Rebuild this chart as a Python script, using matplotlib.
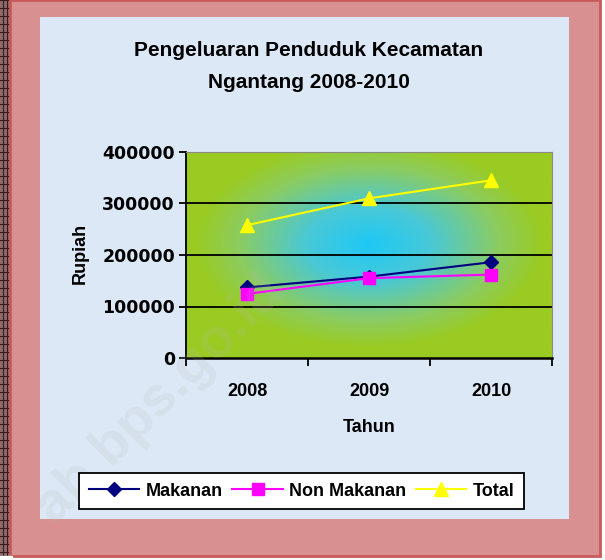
import numpy as np
import matplotlib
matplotlib.use("Agg")
import matplotlib.pyplot as plt
from matplotlib.patches import Rectangle
from matplotlib.colors import LinearSegmentedColormap

years = ["2008", "2009", "2010"]
makanan = [137000, 158000, 186000]
non_makanan = [124500, 155000, 162000]
total = [258000, 310000, 345000]
yticks = [0, 100000, 200000, 300000, 400000]

W, H = 605, 560
fig = plt.figure(figsize=(W / 100, H / 100), dpi=100)

def fx(px):
    return px / W

def fy(py):
    return 1 - py / H

bg = fig.add_axes([0, 0, 1, 1])
bg.set_xlim(0, 1)
bg.set_ylim(0, 1)
bg.axis("off")
# dark striped strip on left
bg.add_patch(Rectangle((0, 0), fx(10), 1, color="#8a6a6a", zorder=0))
for i in range(0, H, 8):
    bg.plot([0, fx(10)], [fy(i), fy(i)], color="#3a1a1a", lw=0.8, zorder=1)
for xx in [3, 7]:
    bg.plot([fx(xx), fx(xx)], [0, 1], color="#3a1a1a", lw=0.8, zorder=1)
# pink frame
bg.add_patch(Rectangle((fx(10), fy(556)), fx(590), 556 / H, facecolor="#d99090",
                       edgecolor="#c85a5a", lw=2, zorder=2))
bg.add_patch(Rectangle((fx(0), fy(560)), fx(12), 4 / H, color="white", zorder=2))
# chart area
bg.add_patch(Rectangle((fx(40), fy(519)), fx(529), 502 / H, facecolor="#dce8f5",
                       edgecolor="none", zorder=3))

fig.text(fx(309), fy(50), "Pengeluaran Penduduk Kecamatan", ha="center", va="center",
         fontsize=15, fontweight="bold", family="Liberation Sans")
fig.text(fx(309), fy(82), "Ngantang 2008-2010", ha="center", va="center",
         fontsize=15, fontweight="bold", family="Liberation Sans")

ax = fig.add_axes([fx(186), fy(358), fx(366), 206 / H])
ax.set_zorder(5)
# radial gradient background
nx, ny = 300, 200
gx, gy = np.meshgrid(np.linspace(-1, 1, nx), np.linspace(-1, 1, ny))
d = np.sqrt((gx / 0.95) ** 2 + ((gy + 0.1) / 1.0) ** 2)
d = np.clip(d, 0, 1)
cmap = LinearSegmentedColormap.from_list("g", [(0, "#1ec8f5"), (0.35, "#48c8d8"),
                                                (0.75, "#8ccc60"), (1, "#9acb22")])
ax.imshow(d, cmap=cmap, extent=[0, 1, 0, 1], transform=ax.transAxes, aspect="auto",
          zorder=0, interpolation="bilinear")

x = np.arange(len(years))
ax.plot(x, makanan, color="#000080", marker="D", ms=7, lw=1.5, zorder=4, label="Makanan")
ax.plot(x, non_makanan, color="#ff00ff", marker="s", ms=8, lw=1.5, zorder=4, label="Non Makanan")
ax.plot(x, total, color="#ffff00", marker="^", ms=10, lw=1.5, zorder=4, label="Total")

ax.set_xlim(-0.5, 2.5)
ax.set_ylim(0, 400000)
ax.set_yticks(yticks)
ax.set_yticklabels([str(v) for v in yticks], fontsize=12.5, fontweight="bold",
                   family="DejaVu Sans")
for v in yticks[1:-1]:
    ax.axhline(v, color="black", lw=1.3, zorder=2)
ax.set_xticks([-0.5, 0.5, 1.5, 2.5])
ax.set_xticklabels([])
ax.set_xticks(x, minor=True)
ax.set_xticklabels(years, minor=True, fontsize=13, fontweight="bold", family="Liberation Sans")
ax.tick_params(axis="x", which="minor", length=0, pad=18)
ax.tick_params(axis="x", which="major", length=6, width=1.3, direction="out")
ax.tick_params(axis="y", length=5, width=1.3, direction="out", pad=3)
for s in ["top", "right"]:
    ax.spines[s].set_color("#8a8a8a")
    ax.spines[s].set_linewidth(0.8)
ax.spines["left"].set_linewidth(1.3)
ax.spines["bottom"].set_linewidth(1.8)

ax.set_xlabel("Tahun", fontsize=13, fontweight="bold", family="Liberation Sans", labelpad=14)
fig.text(fx(80), fy(253), "Rupiah", rotation=90, ha="center", va="center",
         fontsize=13, fontweight="bold", family="Liberation Sans")

leg = fig.legend(loc="center", bbox_to_anchor=(fx(301.5), fy(491)), ncol=3, frameon=True,
                 fancybox=False, edgecolor="black", framealpha=1,
                 prop={"family": "Liberation Sans", "weight": "bold", "size": 13},
                 handlelength=2.8, handletextpad=0.33, columnspacing=0.55,
                 borderpad=0.55, borderaxespad=0)
leg.get_frame().set_linewidth(1.3)
leg.set_zorder(10)

# faint watermark overlay
fig.text(fx(160), fy(400), "ab bps.go.id", rotation=45, fontsize=40, color="#b8b8b8",
         alpha=0.16, fontweight="bold", family="Liberation Sans", ha="center",
         va="center", zorder=8)

fig.savefig("out.png", dpi=100)
